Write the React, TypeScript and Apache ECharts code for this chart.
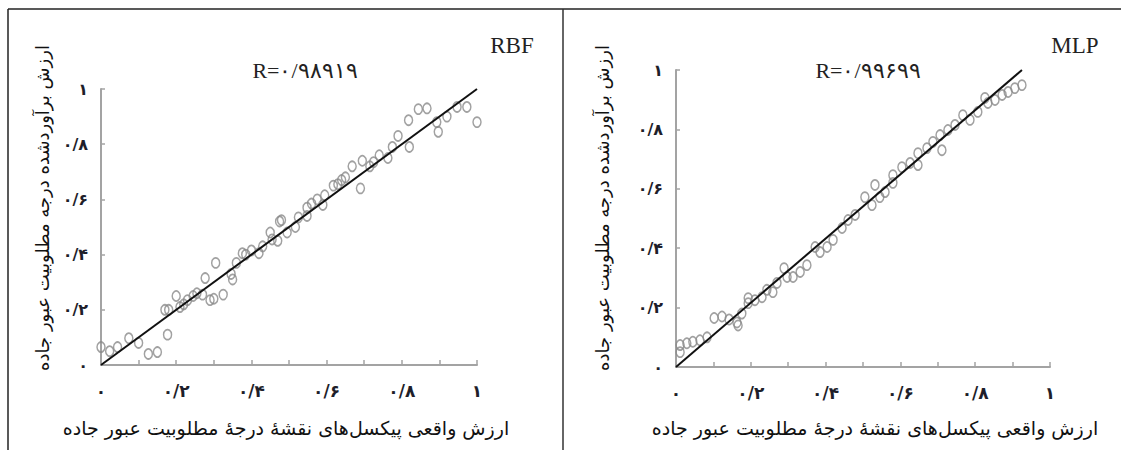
import React, { useEffect, useRef } from "react";
import * as echarts from "echarts";

// Tick labels (Persian digits)
const axisTickLabels = ["۰", "۰/۲", "۰/۴", "۰/۶", "۰/۸", "۱"];

// RBF panel: observed (x) vs estimated (y)
const rbfX = [0.0, 0.023, 0.044, 0.074, 0.1, 0.126, 0.15, 0.177, 0.17, 0.18, 0.2, 0.21, 0.22, 0.23, 0.245, 0.255, 0.27, 0.277, 0.29, 0.3, 0.305, 0.325, 0.35, 0.346, 0.36, 0.376, 0.385, 0.4, 0.42, 0.43, 0.45, 0.455, 0.475, 0.47, 0.48, 0.495, 0.517, 0.525, 0.548, 0.548, 0.56, 0.575, 0.59, 0.595, 0.618, 0.63, 0.64, 0.65, 0.668, 0.69, 0.695, 0.715, 0.725, 0.74, 0.763, 0.775, 0.79, 0.82, 0.818, 0.844, 0.867, 0.893, 0.897, 0.92, 0.947, 0.973, 1.0];
const rbfY = [0.065, 0.05, 0.065, 0.097, 0.08, 0.04, 0.047, 0.11, 0.2, 0.2, 0.25, 0.21, 0.22, 0.235, 0.25, 0.26, 0.255, 0.315, 0.235, 0.24, 0.37, 0.255, 0.31, 0.33, 0.37, 0.405, 0.4, 0.415, 0.405, 0.43, 0.48, 0.455, 0.52, 0.45, 0.525, 0.48, 0.5, 0.535, 0.57, 0.54, 0.585, 0.6, 0.58, 0.615, 0.65, 0.655, 0.67, 0.68, 0.72, 0.64, 0.74, 0.72, 0.735, 0.76, 0.75, 0.79, 0.83, 0.79, 0.887, 0.927, 0.93, 0.88, 0.845, 0.9, 0.935, 0.935, 0.88];
const rbfLineX = [0, 1];
const rbfLineY = [0, 1];

// MLP panel
const mlpX = [0.011, 0.011, 0.029, 0.045, 0.064, 0.083, 0.102, 0.123, 0.142, 0.163, 0.166, 0.176, 0.193, 0.193, 0.211, 0.23, 0.243, 0.259, 0.27, 0.289, 0.297, 0.313, 0.332, 0.35, 0.372, 0.385, 0.404, 0.42, 0.444, 0.46, 0.479, 0.505, 0.524, 0.532, 0.545, 0.559, 0.58, 0.58, 0.604, 0.626, 0.647, 0.647, 0.671, 0.687, 0.711, 0.706, 0.727, 0.746, 0.767, 0.786, 0.807, 0.826, 0.834, 0.853, 0.872, 0.888, 0.906, 0.925];
const mlpY = [0.074, 0.05, 0.08, 0.085, 0.09, 0.1, 0.165, 0.17, 0.16, 0.15, 0.14, 0.18, 0.215, 0.232, 0.225, 0.235, 0.26, 0.252, 0.283, 0.333, 0.303, 0.303, 0.32, 0.343, 0.404, 0.387, 0.404, 0.428, 0.468, 0.495, 0.512, 0.572, 0.545, 0.613, 0.572, 0.589, 0.62, 0.646, 0.673, 0.687, 0.72, 0.68, 0.737, 0.758, 0.73, 0.781, 0.798, 0.815, 0.848, 0.832, 0.859, 0.906, 0.889, 0.899, 0.916, 0.926, 0.939, 0.949];
const mlpLineX = [0, 0.925];
const mlpLineY = [0, 1];

const rbfTitle = "RBF";
const mlpTitle = "MLP";
const rbfR = "R=۰/۹۸۹۱۹";
const mlpR = "R=۰/۹۹۶۹۹";
const xTitle = "ارزش واقعی پیکسل\u200Cهای نقشهٔ درجهٔ مطلوبیت عبور جاده";
const yTitle = "ارزش برآوردشده درجه مطلوبیت عبور جاده";

const zip = (a: number[], b: number[]) => a.map((v, i) => [v, b[i]]);

const labelFor = (v: number) => {
  const k = Math.round(v * 10);
  if (k % 2 !== 0) return "";
  return axisTickLabels[k / 2] ?? "";
};

const axisColor = "#a3a3a3";
const faFont = "DejaVu Sans";
const serif = "Liberation Serif, DejaVu Serif";

function makeX(gridIndex: number) {
  return {
    type: "value",
    gridIndex,
    min: 0,
    max: 1,
    interval: 0.1,
    splitLine: { show: false },
    axisLine: { lineStyle: { color: axisColor, width: 2 } },
    axisTick: { inside: true, length: 5, lineStyle: { color: axisColor, width: 1.5 } },
    axisLabel: {
      formatter: labelFor,
      margin: 17,
      fontSize: 17,
      fontWeight: "bold",
      color: "#1e1e2a",
      fontFamily: faFont,
      showMinLabel: true,
      showMaxLabel: true,
    },
  };
}

function makeY(gridIndex: number) {
  return {
    type: "value",
    gridIndex,
    min: 0,
    max: 1,
    interval: 0.2,
    splitLine: { show: false },
    axisLine: { show: true, lineStyle: { color: axisColor, width: 2 } },
    axisTick: { show: true, inside: true, length: 4, lineStyle: { color: axisColor, width: 1.5 } },
    axisLabel: {
      formatter: labelFor,
      margin: 13,
      fontSize: 16,
      fontWeight: "bold",
      color: "#1e1e2a",
      fontFamily: faFont,
    },
  };
}

export default function App() {
  const ref = useRef<HTMLDivElement>(null);
  useEffect(() => {
    if (!ref.current) return;
    const chart = echarts.init(ref.current, undefined, { renderer: "svg" });
    const scatterStyle = {
      color: "rgba(0,0,0,0)",
      borderColor: "#8a8a8a",
      borderWidth: 1.6,
    };
    chart.setOption({
      animation: false,
      backgroundColor: "#ffffff",
      grid: [
        { left: 101, top: 89, width: 376, height: 276 },
        { left: 676, top: 70, width: 374, height: 297 },
      ],
      xAxis: [makeX(0), makeX(1)],
      yAxis: [makeY(0), makeY(1)],
      series: [
        {
          type: "scatter",
          xAxisIndex: 0,
          yAxisIndex: 0,
          data: zip(rbfX, rbfY),
          symbol: "circle",
          symbolSize: [8, 10],
          itemStyle: scatterStyle,
          z: 2,
        },
        {
          type: "line",
          xAxisIndex: 0,
          yAxisIndex: 0,
          data: zip(rbfLineX, rbfLineY),
          showSymbol: false,
          symbol: "none",
          lineStyle: { color: "#111", width: 2 },
          z: 3,
        },
        {
          type: "scatter",
          xAxisIndex: 1,
          yAxisIndex: 1,
          data: zip(mlpX, mlpY),
          symbol: "circle",
          symbolSize: [8, 10],
          itemStyle: scatterStyle,
          z: 2,
        },
        {
          type: "line",
          xAxisIndex: 1,
          yAxisIndex: 1,
          data: zip(mlpLineX, mlpLineY),
          showSymbol: false,
          symbol: "none",
          lineStyle: { color: "#111", width: 2 },
          z: 3,
        },
      ],
      graphic: [
        { type: "line", shape: { x1: 8, y1: 9, x2: 1121, y2: 9 }, style: { stroke: "#222", lineWidth: 1.5 } },
        { type: "line", shape: { x1: 8, y1: 9, x2: 8, y2: 450 }, style: { stroke: "#222", lineWidth: 1.5 } },
        { type: "line", shape: { x1: 563, y1: 9, x2: 563, y2: 450 }, style: { stroke: "#333", lineWidth: 1.5 } },
        { type: "text", x: 512, y: 45, style: { text: rbfTitle, font: `23px ${serif}`, fill: "#222", align: "center", verticalAlign: "middle" } },
        { type: "text", x: 1075, y: 45, style: { text: mlpTitle, font: `23px ${serif}`, fill: "#222", align: "center", verticalAlign: "middle" } },
        { type: "text", x: 305, y: 70, style: { text: rbfR, font: `22px ${serif}`, fill: "#222", align: "center", verticalAlign: "middle" } },
        { type: "text", x: 868, y: 70, style: { text: mlpR, font: `22px ${serif}`, fill: "#222", align: "center", verticalAlign: "middle" } },
        { type: "text", x: 286, y: 428, style: { text: xTitle, font: `19px ${faFont}`, fill: "#111", align: "center", verticalAlign: "middle" } },
        { type: "text", x: 875, y: 428, style: { text: xTitle, font: `19px ${faFont}`, fill: "#111", align: "center", verticalAlign: "middle" } },
        { type: "text", x: 42, y: 208, rotation: Math.PI / 2, style: { text: yTitle, font: `18px ${faFont}`, fill: "#111", align: "center", verticalAlign: "middle" } },
        { type: "text", x: 602, y: 208, rotation: Math.PI / 2, style: { text: yTitle, font: `18px ${faFont}`, fill: "#111", align: "center", verticalAlign: "middle" } },
      ],
    });
    return () => chart.dispose();
  }, []);
  return (
    <div
      ref={ref}
      style={{ position: "absolute", left: 0, top: 0, width: 1121, height: 450, background: "#fff" }}
    />
  );
}
